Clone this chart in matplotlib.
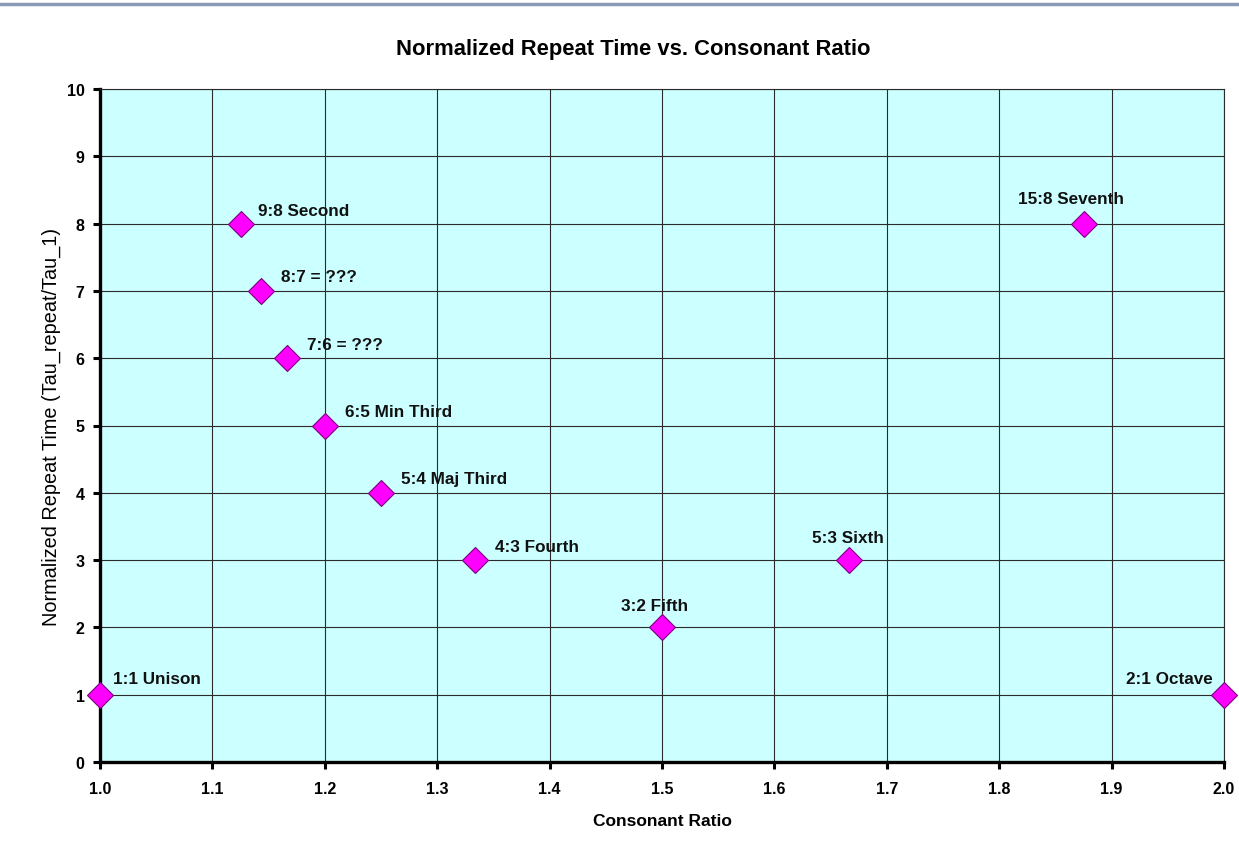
import matplotlib.pyplot as plt
from matplotlib.lines import Line2D

plt.rcParams['font.family'] = ['Liberation Sans', 'DejaVu Sans']

# consonant ratios and normalized repeat times
ratios = [1.0, 9/8, 8/7, 7/6, 6/5, 5/4, 4/3, 3/2, 5/3, 15/8, 2.0]
repeat_time = [1, 8, 7, 6, 5, 4, 3, 2, 3, 8, 1]
names = ["1:1 Unison", "9:8 Second", "8:7 = ???", "7:6 = ???", "6:5 Min Third",
         "5:4 Maj Third", "4:3 Fourth", "3:2 Fifth", "5:3 Sixth", "15:8 Seventh",
         "2:1 Octave"]
# where each label goes relative to its point (pixels) and alignment
label_pos = [(13, 16, 'left'), (17, 13, 'left'), (20, 14, 'left'), (20, 14, 'left'),
             (20, 14, 'left'), (20, 14, 'left'), (20, 14, 'left'), (-7, 22, 'center'),
             (-1, 23, 'center'), (-13, 25, 'center'), (-11, 16, 'right')]

fig = plt.figure(figsize=(12.39, 8.54), dpi=100)
ax = fig.add_axes([100/1239, 1 - 763/854, 1124/1239, 673/854])
ax.set_facecolor('#CCFFFF')

ax.plot(ratios, repeat_time, linestyle='none', marker='D', markersize=13,
        markerfacecolor='#FF00FF', markeredgecolor='#7A007A', markeredgewidth=0.8,
        clip_on=False, zorder=5)

for x, y, name, (dx, dy, ha) in zip(ratios, repeat_time, names, label_pos):
    ax.annotate(name, (x, y), xytext=(dx * 0.72, dy * 0.72), textcoords='offset points',
                ha=ha, va='center', fontsize=12.3, fontweight='bold', color='#111111')

ax.set_xlim(1.0, 2.0)
ax.set_ylim(0, 10)
ax.set_xticks([1.0 + 0.1 * i for i in range(11)])
ax.set_xticklabels(["%.1f" % (1.0 + 0.1 * i) for i in range(11)])
ax.set_yticks(range(11))
ax.grid(True, color='#2a2a2a', linewidth=0.8)
ax.set_axisbelow(True)

for s in ['left', 'bottom']:
    ax.spines[s].set_linewidth(2.4)
for s in ['top', 'right']:
    ax.spines[s].set_linewidth(0.8)
    ax.spines[s].set_color('#2a2a2a')
ax.tick_params(direction='out', length=5, width=2.2, labelsize=11.5)
ax.tick_params(axis='x', pad=9)
ax.tick_params(axis='y', pad=6)
for lbl in ax.get_xticklabels() + ax.get_yticklabels():
    lbl.set_fontweight('bold')

fig.text(633/1239, 1 - 50/854, "Normalized Repeat Time vs. Consonant Ratio",
         ha='center', va='center', fontsize=15.8, fontweight='bold')
ax.set_xlabel("Consonant Ratio", fontsize=12.5, fontweight='bold', labelpad=12)
ax.set_ylabel("Normalized Repeat Time (Tau_repeat/Tau_1)", fontsize=14.3, labelpad=4)

# thin bar across the top
fig.add_artist(Line2D([0, 1], [1 - 5/854, 1 - 5/854], color='#8C9BB5', linewidth=2.5))

fig.savefig("out.png", dpi=100)
